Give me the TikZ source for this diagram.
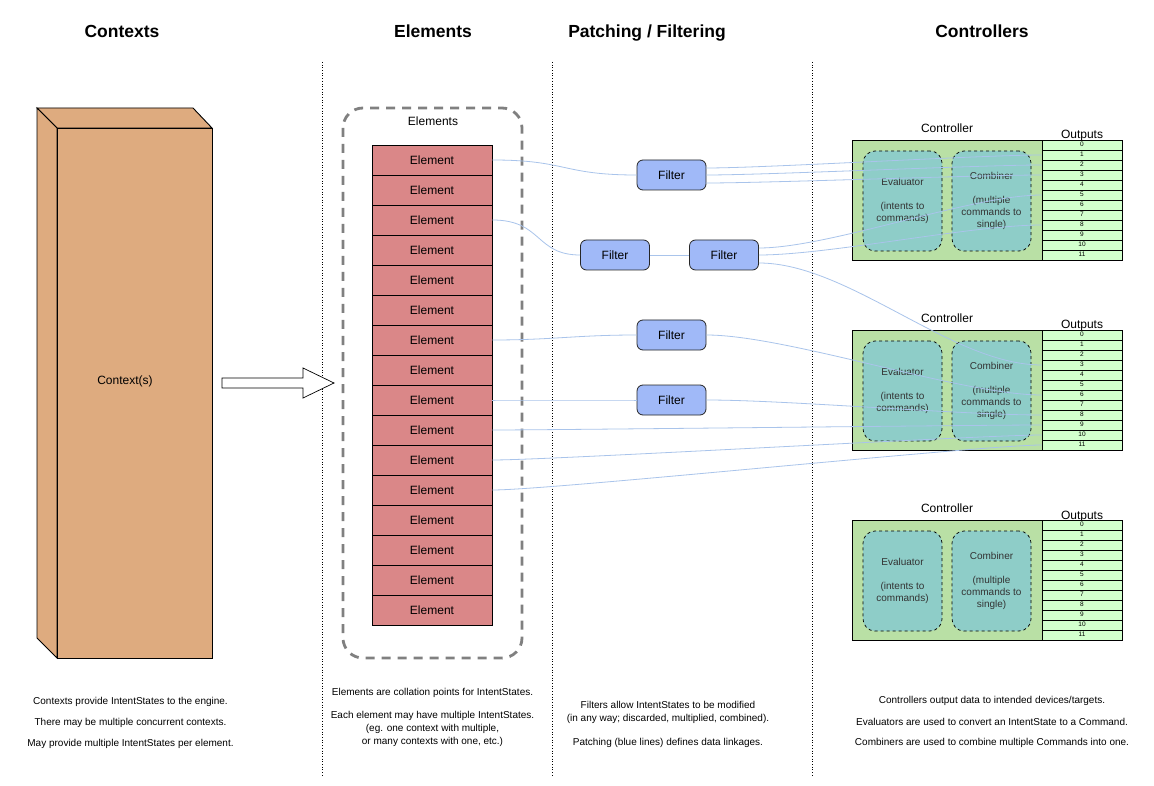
\documentclass[tikz,border=0pt]{standalone}
\usepackage{fontspec}
\setmainfont{Liberation Sans}
\definecolor{ctxfill}{RGB}{222,171,127}
\definecolor{elemfill}{RGB}{218,135,136}
\definecolor{filterfill}{RGB}{160,185,248}
\definecolor{ctrlfill}{RGB}{185,224,165}
\definecolor{outfill}{RGB}{210,255,205}
\definecolor{evalfill}{RGB}{142,205,200}
\definecolor{patchblue}{RGB}{169,196,235}
\definecolor{contgray}{RGB}{128,128,128}
\tikzset{
  heading/.style={font=\bfseries\fontsize{17.5}{21}\selectfont, anchor=base, inner sep=0pt},
  note/.style={font=\fontsize{10}{13}\selectfont, align=center, anchor=center, inner sep=0pt},
  elem/.style={draw=black, fill=elemfill, minimum width=120pt, minimum height=30pt, inner sep=0pt, font=\fontsize{12}{14}\selectfont, line width=0.8pt},
  filt/.style={draw=black!85, fill=filterfill, rounded corners=6pt, minimum width=69pt, minimum height=30pt, inner sep=0pt, font=\fontsize{12}{14}\selectfont, line width=0.8pt},
  ctrl/.style={draw=black, fill=ctrlfill, minimum width=190pt, minimum height=120pt, inner sep=0pt, line width=0.8pt},
  sub/.style={draw=black, dashed, fill=evalfill, rounded corners=12pt, minimum width=79pt, minimum height=100pt, inner sep=0pt, align=center, text=black!80, font=\fontsize{10}{12}\selectfont, line width=0.7pt},
  outcell/.style={draw=black, fill=outfill, minimum width=80pt, minimum height=10pt, inner sep=0pt, font=\fontsize{6.5}{7}\selectfont, line width=0.7pt},
  lbl/.style={font=\fontsize{12}{14}\selectfont, inner sep=0pt, anchor=center},
  toplbl/.style={font=\fontsize{12}{14}\selectfont, inner sep=0pt, anchor=base},
  patch/.style={draw=patchblue, line width=0.8pt},
  colsep/.style={draw=black, dotted, line width=0.7pt},
}
\begin{document}
\begin{tikzpicture}[x=1pt,y=-1pt]
\useasboundingbox[fill=white] (0,0) rectangle (1154,786);

% column separators
\coordinate (s1t) at (322,62); \coordinate (s1b) at (322,776);
\coordinate (s2t) at (552,62); \coordinate (s2b) at (552,776);
\coordinate (s3t) at (812,62); \coordinate (s3b) at (812,776);
\draw[colsep] (s1t) -- (s1b);
\draw[colsep] (s2t) -- (s2b);
\draw[colsep] (s3t) -- (s3b);

% headings
\node[heading] (h1) at (122,37.5) {Contexts};
\node[heading] (h2) at (433,37.5) {Elements};
\node[heading] (h3) at (647,37.5) {Patching / Filtering};
\node[heading] (h4) at (982,37.5) {Controllers};

% context box (3D)
\draw[fill=ctxfill, line width=0.9pt, line join=miter] (37,108) -- (193,108) -- (212,128) -- (57,128) -- cycle;
\draw[fill=ctxfill, line width=0.9pt, line join=miter] (37,108) -- (57,128) -- (57,658) -- (37,638) -- cycle;
\draw[fill=ctxfill, line width=0.9pt] (57,128) rectangle (212,658);
\node[lbl] (ctx) at (125,381) {Context(s)};

% block arrow
\draw[fill=white, line width=0.7pt, line join=miter] (222,378) -- (303,378) -- (303,368) -- (334,383) -- (303,398) -- (303,388) -- (222,388) -- cycle;

% elements container
\draw[contgray, line width=2.8pt, dash pattern=on 9pt off 7pt, rounded corners=20pt] (343,108) rectangle (522,658);
\node[lbl] (elabel) at (433,121) {Elements};

% elements
\foreach \i in {1,...,16} {
  \node[elem] (e\i) at (432,{130+30*\i}) {Element};
}

% filters
\node[filt] (f1) at (671.5,175) {Filter};
\node[filt] (f2) at (615,255) {Filter};
\node[filt] (f3) at (724,255) {Filter};
\node[filt] (f4) at (671.5,335) {Filter};
\node[filt] (f5) at (671.5,400) {Filter};

% controllers
\foreach \k/\y in {1/140,2/330,3/520} {
  \node[ctrl] (c\k) at (947,{\y+60}) {};
  \node[sub] (ev\k) at (902.5,{\y+61}) {Evaluator\\[12pt](intents to\\commands)};
  \node[sub] (cb\k) at (991.5,{\y+61}) {Combiner\\[12pt](multiple\\commands to\\single)};
  \node[toplbl] (cl\k) at (947,{\y-7.5}) {Controller};
  \node[toplbl] (ol\k) at (1082,{\y-1}) {Outputs};
  \foreach \i in {0,...,11} {
    \node[outcell] (c\k o\i) at (1082,{\y+5+10*\i}) {\raisebox{1.5pt}{\i}};
  }
}

% patching lines
\draw[patch] (e1.east) .. controls +(75,0) and +(-75,0) .. (f1.west);
\draw[patch] ([yshift=7pt]f1.east) .. controls +(60,0) and +(-60,0) .. (c1o1.west);
\draw[patch] (f1.east) .. controls +(60,0) and +(-60,0) .. (c1o2.west);
\draw[patch] ([yshift=-8pt]f1.east) .. controls +(60,0) and +(-60,0) .. (c1o3.west);

\draw[patch] (e3.east) .. controls +(50,0) and +(-45,0) .. (f2.west);
\draw[patch] (f2.east) -- (f3.west);
\draw[patch] ([yshift=7pt]f3.east) .. controls +(70,0) and +(-70,0) .. (c1o5.west);
\draw[patch] (f3.east) .. controls +(70,0) and +(-70,0) .. (c1o8.west);
\draw[patch] ([yshift=-8pt]f3.east) .. controls +(90,0) and +(-90,0) .. (c2o3.west);

\draw[patch] (e7.east) .. controls +(60,0) and +(-60,0) .. (f4.west);
\draw[patch] (f4.east) .. controls +(80,0) and +(-80,0) .. (c2o6.west);
\draw[patch] (e9.east) .. controls +(60,0) and +(-60,0) .. (f5.west);
\draw[patch] (f5.east) .. controls +(80,0) and +(-80,0) .. (c2o8.west);

\draw[patch] (e10.east) .. controls +(60,0) and +(-60,0) .. (c2o9.west);
\draw[patch] (e11.east) .. controls +(60,0) and +(-60,0) .. (c2o10.west);
\draw[patch] (e12.east) .. controls +(60,0) and +(-60,0) .. (c2o11.west);

% notes
\node[note] (n1a) at (130.5,702) {Contexts provide IntentStates to the engine.};
\node[note] (n1b) at (130.5,723) {There may be multiple concurrent contexts.};
\node[note] (n1c) at (130.5,744) {May provide multiple IntentStates per element.};

\node[note] (n2a) at (432.5,693) {Elements are collation points for IntentStates.};
\node[note] (n2b) at (432.5,729) {Each element may have multiple IntentStates.\\(eg. one context with multiple,\\or many contexts with one, etc.)};

\node[note] (n3a) at (668,712) {Filters allow IntentStates to be modified\\(in any way; discarded, multiplied, combined).};
\node[note] (n3b) at (668,743) {Patching (blue lines) defines data linkages.};

\node[note] (n4a) at (992,701) {Controllers output data to intended devices/targets.};
\node[note] (n4b) at (992,722) {Evaluators are used to convert an IntentState to a Command.};
\node[note] (n4c) at (992,743) {Combiners are used to combine multiple Commands into one.};
\end{tikzpicture}
\end{document}
